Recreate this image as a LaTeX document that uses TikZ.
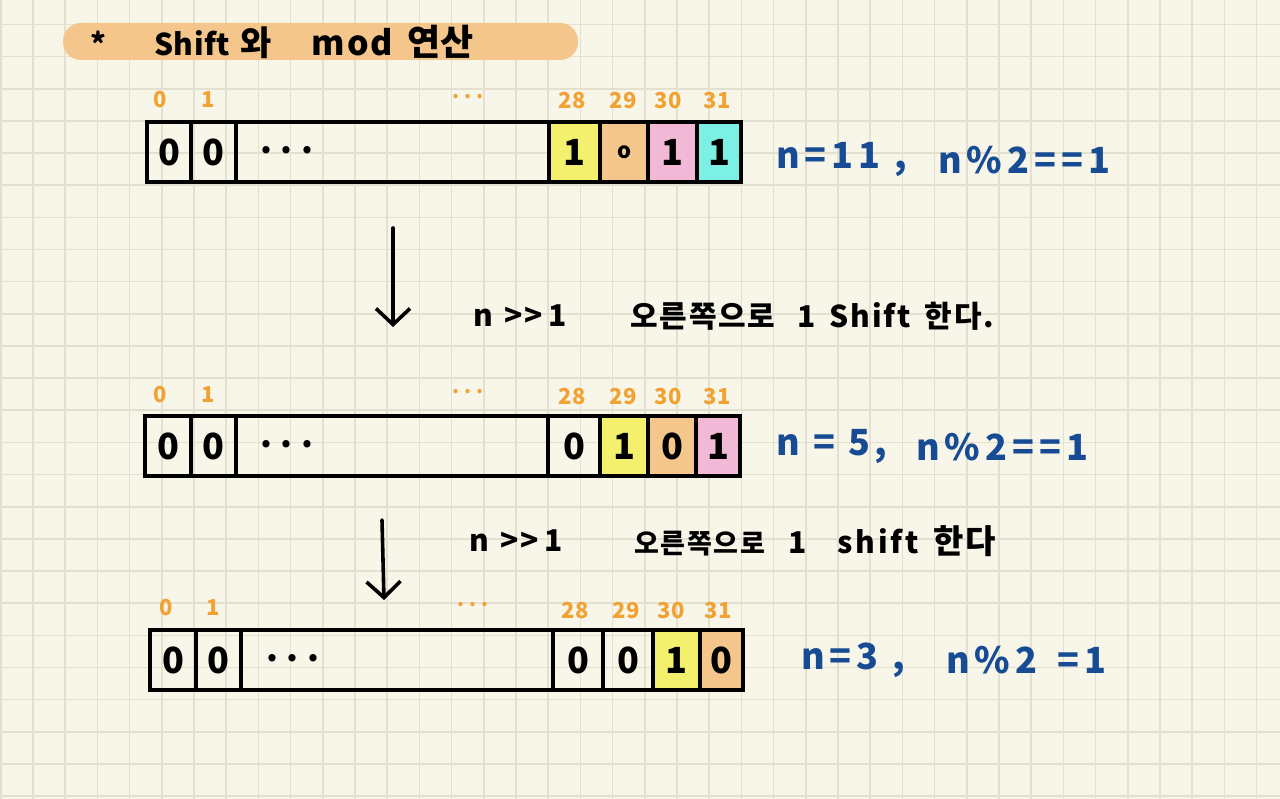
\documentclass[tikz,border=0pt]{standalone}
\usepackage{fontspec}
\setmainfont{Noto Sans CJK KR}
\usetikzlibrary{arrows.meta}
\definecolor{paper}{HTML}{F8F5E9}
\definecolor{gridc}{HTML}{E4E0D0}
\definecolor{hlyellow}{HTML}{F3F06E}
\definecolor{hlorange}{HTML}{F5C68C}
\definecolor{hlpink}{HTML}{F2B9D6}
\definecolor{hlcyan}{HTML}{7DF0E6}
\definecolor{idxc}{HTML}{F2A233}
\definecolor{inkblue}{HTML}{174C94}
\tikzset{
  cellbox/.style={draw=black, line width=3.2pt, minimum height=60pt, inner sep=0pt, font=\fontsize{36}{36}\selectfont\bfseries},
  dotstxt/.style={anchor=west, inner sep=0pt, font=\fontsize{34}{34}\selectfont\bfseries\addfontfeature{LetterSpace=25}},
  idx/.style={text=idxc, inner sep=0pt, font=\fontsize{22}{22}\selectfont\bfseries},
  idxdots/.style={text=idxc, inner sep=0pt, font=\fontsize{20}{20}\selectfont\bfseries\addfontfeature{LetterSpace=25}},
  bluetxt/.style={text=inkblue, anchor=west, inner sep=0pt, font=\fontsize{36}{36}\selectfont\bfseries\addfontfeature{LetterSpace=14}},
  note/.style={text=black, anchor=west, inner sep=0pt, font=\fontsize{30}{30}\selectfont\bfseries\addfontfeature{LetterSpace=6}},
  downarrow/.style={line width=3.6pt, line cap=round, -{Straight Barb[length=16pt,width=34pt,line width=3.6pt]}}
}
\begin{document}
\begin{tikzpicture}[x=1pt,y=-1pt]
\useasboundingbox (0,0) rectangle (1280,799);
\fill[paper] (0,0) rectangle (1280,799);
% grid
\foreach \i in {0,...,39} {
  \draw[gridc, line width=1.6pt] ({33+32.2*\i-32.2},0) -- ({33+32.2*\i-32.2},799);
}
\foreach \j in {0,...,25} {
  \draw[gridc, line width=1.6pt] (0,{24.5+32.15*\j}) -- (1280,{24.5+32.15*\j});
}
% title
\node[fill=hlorange, rounded corners=18pt, minimum width=515pt, minimum height=37pt, inner sep=0pt] (titlebar) at (320.5,41.5) {};
\node[anchor=west, inner sep=0pt, font=\fontsize{30}{30}\selectfont\bfseries] (title) at (90,42)
  {*\hspace{48pt}{\addfontfeature{LetterSpace=2}Shift}\hspace{10pt}{\fontsize{34}{34}\selectfont 와}\hspace{40pt}{\fontsize{34}{34}\selectfont\addfontfeature{LetterSpace=6}mod}\hspace{14pt}{\fontsize{36}{36}\selectfont 연산}};

% ---------- row 1 ----------
\node[cellbox, minimum width=44pt] (a0) at (169,152) {0};
\node[cellbox, minimum width=45pt] (a1) at (213.5,152) {0};
\node[cellbox, minimum width=313pt] (adots) at (392.5,152) {};
\node[dotstxt] (adotstxt) at (260,150) {...};
\node[cellbox, fill=hlyellow, minimum width=51pt] (a28) at (574.5,152) {1};
\node[cellbox, fill=hlorange, minimum width=48pt, font=\fontsize{22}{22}\selectfont\bfseries] (a29) at (624,152) {o};
\node[cellbox, fill=hlpink, minimum width=49pt] (a30) at (672.5,152) {1};
\node[cellbox, fill=hlcyan, minimum width=44pt] (a31) at (719,152) {1};
\node[idx] (ai0) at (160,100) {0};
\node[idx] (ai1) at (208,100) {1};
\node[idxdots] (aid) at (468,97) {...};
\node[idx] (ai28) at (572,101) {28};
\node[idx] (ai29) at (623,101) {29};
\node[idx] (ai30) at (668,101) {30};
\node[idx] (ai31) at (717,101) {31};
\node[bluetxt] (an) at (776,160) {n=11\hspace{14pt},};
\node[bluetxt] (amod) at (938,160) {n\%2==1};

% arrow 1 + note
\coordinate (arr1s) at (393,228);
\coordinate (arr1e) at (393,327);
\draw[downarrow] (arr1s) -- (arr1e);
\node[note] (n1a) at (473,316) {n\hspace{12pt}{>}\hspace{1pt}{>}\hspace{6pt}1};
\node[note] (n1b) at (630,316) {오른쪽으로\hspace{22pt}1\hspace{14pt}Shift\hspace{14pt}한다.};

% ---------- row 2 ----------
\node[cellbox, minimum width=46pt] (b0) at (168,446) {0};
\node[cellbox, minimum width=45pt] (b1) at (213.5,446) {0};
\node[cellbox, minimum width=312pt] (bdots) at (392,446) {};
\node[dotstxt] (bdotstxt) at (260,444) {...};
\node[cellbox, minimum width=52pt] (b28) at (574,446) {0};
\node[cellbox, fill=hlyellow, minimum width=48pt] (b29) at (624,446) {1};
\node[cellbox, fill=hlorange, minimum width=48pt] (b30) at (672,446) {0};
\node[cellbox, fill=hlpink, minimum width=44pt] (b31) at (718,446) {1};
\node[idx] (bi0) at (160,395) {0};
\node[idx] (bi1) at (208,395) {1};
\node[idxdots] (bid) at (468,392) {...};
\node[idx] (bi28) at (572,397) {28};
\node[idx] (bi29) at (623,397) {29};
\node[idx] (bi30) at (668,397) {30};
\node[idx] (bi31) at (717,397) {31};
\node[bluetxt] (bn) at (776,447) {n = 5\hspace{4pt},};
\node[bluetxt] (bmod) at (916,447) {n\%2==1};

% arrow 2 + note
\coordinate (arr2s) at (382,520);
\coordinate (arr2e) at (384,600);
\draw[downarrow] (arr2s) -- (arr2e);
\node[note] (n2a) at (469,541) {n\hspace{12pt}{>}\hspace{1pt}{>}\hspace{6pt}1};
\node[note] (n2b) at (634,541) {{\fontsize{27}{27}\selectfont 오른쪽으로}\hspace{24pt}1\hspace{30pt}{\addfontfeature{LetterSpace=10}shift}\hspace{14pt}{\fontsize{33}{33}\selectfont 한다}};

% ---------- row 3 ----------
\node[cellbox, minimum width=46pt] (c0) at (173,660) {0};
\node[cellbox, minimum width=45pt] (c1) at (218.5,660) {0};
\node[cellbox, minimum width=312pt] (cdots) at (397,660) {};
\node[dotstxt] (cdotstxt) at (266,658) {...};
\node[cellbox, minimum width=50pt] (c28) at (578,660) {0};
\node[cellbox, minimum width=50pt] (c29) at (628,660) {0};
\node[cellbox, fill=hlyellow, minimum width=47pt] (c30) at (676.5,660) {1};
\node[cellbox, fill=hlorange, minimum width=43pt] (c31) at (721.5,660) {0};
\node[idx] (ci0) at (166,608) {0};
\node[idx] (ci1) at (213,608) {1};
\node[idxdots] (cid) at (473,605) {...};
\node[idx] (ci28) at (575,611) {28};
\node[idx] (ci29) at (626,611) {29};
\node[idx] (ci30) at (671,611) {30};
\node[idx] (ci31) at (718,611) {31};
\node[bluetxt] (cn) at (801,660) {n=3\hspace{14pt},};
\node[bluetxt] (cmod) at (946,660) {n\%2\hspace{20pt}=1};
\end{tikzpicture}
\end{document}
